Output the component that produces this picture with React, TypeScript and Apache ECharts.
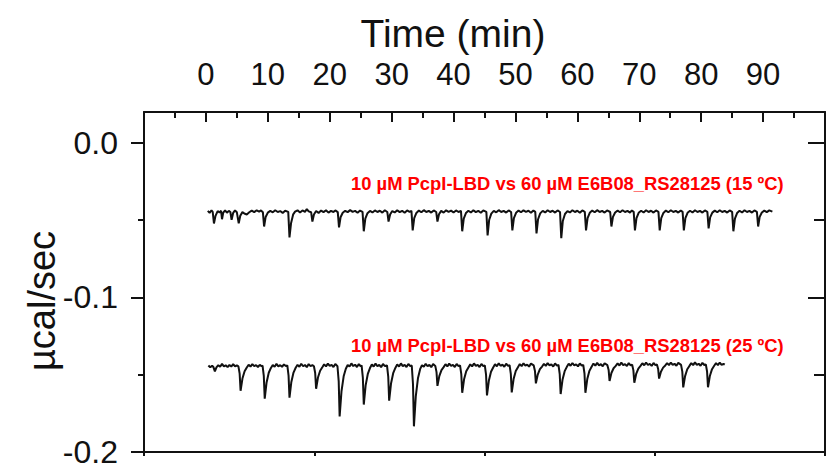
import React, { useEffect, useRef } from 'react';
import * as echarts from 'echarts';

// Time (min), heat rate (µcal/sec) — 15 ºC run
const upperTrace: [number, number][] = [
  [0.3,-0.0440],[0.6,-0.0452],[0.9,-0.0437],[1.1,-0.0447],[1.3,-0.0521],[1.55,-0.0472],[1.9,-0.0441],[2.2,-0.0450],[2.45,-0.0439],[2.6,-0.0494],[2.8,-0.0451],[3.1,-0.0436],[3.4,-0.0452],[3.7,-0.0440],[3.95,-0.0447],[4.15,-0.0497],[4.4,-0.0453],[4.7,-0.0437],[5.0,-0.0449],
  [5.3,-0.0521],[5.55,-0.0471],[5.9,-0.0448],[6.2,-0.0457],[6.6,-0.0463],[7.0,-0.0449],[7.4,-0.0438],[7.8,-0.0448],[8.2,-0.0436],[8.6,-0.0445],[8.9,-0.0437],[9.2,-0.0448],
  [9.4,-0.0541],[9.65,-0.0479],[10.0,-0.0451],[10.4,-0.0440],[10.8,-0.0449],[11.2,-0.0436],[11.6,-0.0447],[12.0,-0.0441],[12.4,-0.0453],[12.8,-0.0439],[13.3,-0.0446],
  [13.5,-0.0611],[13.75,-0.0520],[14.1,-0.0462],[14.4,-0.0445],[14.8,-0.0436],[15.2,-0.0450],[15.6,-0.0437],[16.0,-0.0446],[16.3,-0.0428],[16.6,-0.0443],[17.0,-0.0449],
  [17.2,-0.0509],[17.45,-0.0463],[17.8,-0.0441],[18.2,-0.0453],[18.6,-0.0438],[19.0,-0.0448],[19.4,-0.0436],[19.8,-0.0451],[20.2,-0.0440],[20.6,-0.0447],[20.9,-0.0437],[21.3,-0.0448],
  [21.5,-0.0547],[21.75,-0.0481],[22.1,-0.0452],[22.5,-0.0439],[22.9,-0.0448],[23.3,-0.0435],[23.7,-0.0446],[24.1,-0.0440],[24.5,-0.0452],[24.9,-0.0438],[25.3,-0.0446],
  [25.5,-0.0572],[25.75,-0.0490],[26.1,-0.0455],[26.5,-0.0440],[26.9,-0.0450],[27.3,-0.0437],[27.7,-0.0447],[28.1,-0.0439],[28.5,-0.0451],[28.9,-0.0436],[29.3,-0.0447],
  [29.5,-0.0509],[29.75,-0.0463],[30.1,-0.0441],[30.5,-0.0450],[30.9,-0.0436],[31.3,-0.0448],[31.7,-0.0439],[32.1,-0.0452],[32.5,-0.0437],[32.9,-0.0446],[33.2,-0.0440],
  [33.4,-0.0566],[33.65,-0.0487],[34.0,-0.0453],[34.4,-0.0438],[34.8,-0.0449],[35.2,-0.0435],[35.6,-0.0447],[36.0,-0.0440],[36.4,-0.0451],[36.8,-0.0437],[37.2,-0.0447],
  [37.4,-0.0509],[37.65,-0.0462],[38.0,-0.0440],[38.4,-0.0451],[38.8,-0.0436],[39.2,-0.0446],[39.6,-0.0438],[40.0,-0.0450],[40.4,-0.0437],[40.8,-0.0447],[41.2,-0.0440],
  [41.4,-0.0572],[41.65,-0.0490],[42.0,-0.0454],[42.4,-0.0439],[42.8,-0.0450],[43.2,-0.0436],[43.6,-0.0448],[44.0,-0.0439],[44.4,-0.0452],[44.8,-0.0437],[45.3,-0.0446],
  [45.5,-0.0598],[45.75,-0.0499],[46.1,-0.0458],[46.5,-0.0440],[46.9,-0.0449],[47.3,-0.0435],[47.7,-0.0447],[48.1,-0.0440],[48.5,-0.0451],[48.9,-0.0437],[49.3,-0.0447],
  [49.5,-0.0566],[49.75,-0.0487],[50.1,-0.0452],[50.5,-0.0438],[50.9,-0.0449],[51.3,-0.0436],[51.7,-0.0446],[52.1,-0.0439],[52.5,-0.0452],[52.9,-0.0437],[53.2,-0.0446],
  [53.4,-0.0585],[53.65,-0.0494],[54.0,-0.0456],[54.4,-0.0440],[54.8,-0.0450],[55.2,-0.0436],[55.6,-0.0447],[56.0,-0.0439],[56.4,-0.0451],[56.8,-0.0437],[57.2,-0.0447],
  [57.4,-0.0617],[57.65,-0.0505],[58.0,-0.0460],[58.4,-0.0441],[58.8,-0.0450],[59.2,-0.0436],[59.6,-0.0447],[60.0,-0.0439],[60.4,-0.0452],[60.8,-0.0437],[61.2,-0.0446],
  [61.4,-0.0566],[61.65,-0.0487],[62.0,-0.0452],[62.4,-0.0438],[62.8,-0.0449],[63.2,-0.0435],[63.6,-0.0447],[64.0,-0.0440],[64.4,-0.0451],[64.8,-0.0437],[65.3,-0.0447],
  [65.5,-0.0541],[65.75,-0.0479],[66.1,-0.0450],[66.5,-0.0438],[66.9,-0.0449],[67.3,-0.0436],[67.7,-0.0447],[68.1,-0.0440],[68.5,-0.0451],[68.8,-0.0437],[69.1,-0.0446],
  [69.3,-0.0566],[69.55,-0.0487],[69.9,-0.0452],[70.3,-0.0439],[70.7,-0.0450],[71.1,-0.0436],[71.5,-0.0447],[71.9,-0.0439],[72.3,-0.0451],[72.7,-0.0437],[73.1,-0.0446],
  [73.3,-0.0566],[73.55,-0.0487],[73.9,-0.0453],[74.3,-0.0438],[74.7,-0.0449],[75.1,-0.0436],[75.5,-0.0447],[75.9,-0.0440],[76.3,-0.0451],[76.7,-0.0437],[77.0,-0.0446],
  [77.2,-0.0566],[77.45,-0.0487],[77.8,-0.0452],[78.2,-0.0439],[78.6,-0.0450],[79.0,-0.0436],[79.4,-0.0447],[79.8,-0.0440],[80.2,-0.0451],[80.6,-0.0437],[81.0,-0.0446],
  [81.2,-0.0553],[81.45,-0.0482],[81.8,-0.0451],[82.2,-0.0438],[82.6,-0.0449],[83.0,-0.0436],[83.4,-0.0447],[83.8,-0.0440],[84.2,-0.0451],[84.6,-0.0437],[85.0,-0.0446],
  [85.2,-0.0572],[85.45,-0.0490],[85.8,-0.0454],[86.2,-0.0439],[86.6,-0.0450],[87.0,-0.0436],[87.4,-0.0447],[87.8,-0.0440],[88.2,-0.0451],[88.6,-0.0437],[89.0,-0.0446],
  [89.2,-0.0541],[89.45,-0.0479],[89.8,-0.0450],[90.2,-0.0438],[90.6,-0.0448],[91.0,-0.0437],[91.5,-0.0445],
];

// Time (min), heat rate (µcal/sec) — 25 ºC run
const lowerTrace: [number, number][] = [
  [0.4,-0.1440],[0.7,-0.1452],[1.0,-0.1443],[1.2,-0.1449],[1.45,-0.1478],[1.7,-0.1452],[2.0,-0.1438],[2.3,-0.1448],[2.6,-0.1430],[2.9,-0.1446],[3.2,-0.1439],[3.5,-0.1451],[3.8,-0.1437],[4.1,-0.1447],[4.4,-0.1432],[4.7,-0.1445],[5.0,-0.1440],[5.25,-0.1446],
  [5.45,-0.1493],[5.6,-0.1604],[5.9,-0.1525],[6.25,-0.1477],[6.6,-0.1453],[6.9,-0.1436],[7.2,-0.1447],[7.5,-0.1431],[7.8,-0.1444],[8.1,-0.1438],[8.4,-0.1450],[8.7,-0.1436],[9.0,-0.1445],[9.15,-0.1441],
  [9.35,-0.1508],[9.5,-0.1655],[9.8,-0.1550],[10.15,-0.1487],[10.5,-0.1456],[10.8,-0.1437],[11.1,-0.1448],[11.4,-0.1430],[11.7,-0.1446],[12.0,-0.1438],[12.3,-0.1449],[12.6,-0.1433],[12.9,-0.1444],[13.15,-0.1439],
  [13.35,-0.1506],[13.5,-0.1649],[13.8,-0.1547],[14.15,-0.1486],[14.5,-0.1455],[14.8,-0.1436],[15.1,-0.1448],[15.4,-0.1429],[15.7,-0.1445],[16.0,-0.1437],[16.3,-0.1451],[16.6,-0.1431],[16.9,-0.1444],[17.2,-0.1438],[17.45,-0.1445],
  [17.65,-0.1489],[17.8,-0.1591],[18.1,-0.1518],[18.45,-0.1474],[18.8,-0.1452],[19.1,-0.1433],[19.4,-0.1446],[19.7,-0.1428],[20.0,-0.1443],[20.3,-0.1436],[20.6,-0.1450],[20.9,-0.1430],[21.25,-0.1445],
  [21.45,-0.1543],[21.6,-0.1770],[21.9,-0.1608],[22.25,-0.1510],[22.6,-0.1461],[22.9,-0.1437],[23.2,-0.1447],[23.5,-0.1427],[23.8,-0.1444],[24.1,-0.1435],[24.4,-0.1450],[24.7,-0.1431],[25.0,-0.1445],[25.15,-0.1440],
  [25.35,-0.1519],[25.5,-0.1693],[25.8,-0.1569],[26.15,-0.1495],[26.5,-0.1457],[26.8,-0.1434],[27.1,-0.1447],[27.4,-0.1428],[27.7,-0.1445],[28.0,-0.1436],[28.3,-0.1451],[28.6,-0.1430],[28.9,-0.1444],[29.25,-0.1440],
  [29.45,-0.1512],[29.6,-0.1668],[29.9,-0.1557],[30.25,-0.1490],[30.6,-0.1456],[30.9,-0.1433],[31.2,-0.1447],[31.5,-0.1427],[31.8,-0.1444],[32.1,-0.1436],[32.4,-0.1450],[32.7,-0.1430],[33.0,-0.1445],[33.25,-0.1440],
  [33.45,-0.1562],[33.6,-0.1834],[33.9,-0.1640],[34.25,-0.1523],[34.6,-0.1464],[34.9,-0.1438],[35.2,-0.1449],[35.5,-0.1429],[35.8,-0.1445],[36.1,-0.1436],[36.4,-0.1451],[36.7,-0.1431],[37.05,-0.1443],
  [37.25,-0.1483],[37.4,-0.1572],[37.7,-0.1509],[38.05,-0.1470],[38.4,-0.1451],[38.7,-0.1432],[39.0,-0.1446],[39.3,-0.1428],[39.6,-0.1443],[39.9,-0.1436],[40.2,-0.1450],[40.5,-0.1430],[40.8,-0.1444],[41.05,-0.1439],
  [41.25,-0.1496],[41.4,-0.1617],[41.7,-0.1530],[42.05,-0.1478],[42.4,-0.1453],[42.7,-0.1433],[43.0,-0.1446],[43.3,-0.1427],[43.6,-0.1443],[43.9,-0.1436],[44.2,-0.1450],[44.5,-0.1430],[44.8,-0.1444],[45.05,-0.1439],
  [45.25,-0.1500],[45.4,-0.1634],[45.7,-0.1539],[46.05,-0.1481],[46.4,-0.1453],[46.7,-0.1432],[47.0,-0.1445],[47.3,-0.1426],[47.6,-0.1442],[47.9,-0.1435],[48.2,-0.1449],[48.5,-0.1429],[48.8,-0.1443],[49.05,-0.1438],
  [49.25,-0.1494],[49.4,-0.1614],[49.7,-0.1528],[50.05,-0.1476],[50.4,-0.1451],[50.7,-0.1431],[51.0,-0.1444],[51.3,-0.1426],[51.6,-0.1441],[51.9,-0.1434],[52.2,-0.1448],[52.5,-0.1428],[52.95,-0.1440],
  [53.15,-0.1476],[53.3,-0.1556],[53.6,-0.1499],[53.95,-0.1464],[54.3,-0.1447],[54.6,-0.1430],[54.9,-0.1443],[55.2,-0.1425],[55.5,-0.1440],[55.8,-0.1433],[56.1,-0.1447],[56.4,-0.1427],[56.7,-0.1441],[56.95,-0.1437],
  [57.15,-0.1496],[57.3,-0.1625],[57.6,-0.1533],[57.95,-0.1477],[58.3,-0.1449],[58.6,-0.1429],[58.9,-0.1442],[59.2,-0.1424],[59.5,-0.1440],[59.8,-0.1433],[60.1,-0.1446],[60.4,-0.1427],[60.7,-0.1441],[60.95,-0.1436],
  [61.15,-0.1492],[61.3,-0.1617],[61.6,-0.1528],[61.95,-0.1475],[62.3,-0.1448],[62.6,-0.1428],[62.9,-0.1441],[63.2,-0.1423],[63.5,-0.1439],[63.8,-0.1432],[64.1,-0.1445],[64.4,-0.1426],[64.85,-0.1438],
  [65.05,-0.1469],[65.2,-0.1540],[65.5,-0.1489],[65.85,-0.1458],[66.2,-0.1443],[66.5,-0.1427],[66.8,-0.1440],[67.1,-0.1422],[67.4,-0.1438],[67.7,-0.1431],[68.0,-0.1444],[68.3,-0.1425],[68.6,-0.1439],[68.85,-0.1435],
  [69.05,-0.1472],[69.2,-0.1552],[69.5,-0.1495],[69.85,-0.1460],[70.2,-0.1443],[70.5,-0.1426],[70.8,-0.1439],[71.1,-0.1421],[71.4,-0.1437],[71.7,-0.1430],[72.0,-0.1443],[72.3,-0.1424],[72.6,-0.1438],[72.85,-0.1434],
  [73.05,-0.1463],[73.2,-0.1525],[73.5,-0.1481],[73.85,-0.1454],[74.2,-0.1440],[74.5,-0.1425],[74.8,-0.1438],[75.1,-0.1421],[75.4,-0.1436],[75.7,-0.1429],[76.0,-0.1442],[76.3,-0.1423],[76.75,-0.1436],
  [76.95,-0.1480],[77.1,-0.1582],[77.4,-0.1509],[77.75,-0.1465],[78.1,-0.1443],[78.4,-0.1425],[78.7,-0.1438],[79.0,-0.1420],[79.3,-0.1436],[79.6,-0.1429],[79.9,-0.1442],[80.2,-0.1423],[80.5,-0.1437],[80.75,-0.1433],
  [80.95,-0.1479],[81.1,-0.1581],[81.4,-0.1508],[81.75,-0.1464],[82.1,-0.1442],[82.4,-0.1425],[82.7,-0.1438],[83.0,-0.1421],[83.3,-0.1436],[83.6,-0.1430],[83.8,-0.1435],
];

const yMajorTicks = [-0.2, -0.1, 0];
const yMinorTicks = [-0.15, -0.05];
const traceLabels = [
  '10 µM PcpI-LBD vs 60 µM E6B08_RS28125 (15 ºC)',
  '10 µM PcpI-LBD vs 60 µM E6B08_RS28125 (25 ºC)',
];
const xTitle = 'Time (min)';
const yTitle = 'µcal/sec';

export default function App() {
  const ref = useRef<HTMLDivElement>(null);
  useEffect(() => {
    const chart = echarts.init(ref.current as HTMLDivElement, null, { renderer: 'svg' });
    const font = "'Liberation Sans', Arial, sans-serif";
    const ink = '#111111';
    const line = { color: ink, width: 2 };
    chart.setOption({
      animation: false,
      backgroundColor: '#ffffff',
      grid: { left: 144, top: 112, right: -9, bottom: 11, containLabel: false },
      xAxis: [
        {
          type: 'value', position: 'top', min: -10, max: 100, interval: 10,
          axisLine: { show: true, onZero: false, lineStyle: line },
          axisTick: { show: true, inside: true, length: 10, lineStyle: line },
          minorTick: { show: true, splitNumber: 2, length: 6, lineStyle: line },
          axisLabel: {
            show: true, margin: 22, fontSize: 31, color: ink, fontFamily: font,
            formatter: (v: number) => (v < 0 || v > 90 ? '' : String(v)),
          },
          splitLine: { show: false }, minorSplitLine: { show: false },
        },
        {
          type: 'value', position: 'bottom', min: -1, max: 3, interval: 1,
          axisLine: { show: true, onZero: false, lineStyle: line },
          axisTick: { show: true, inside: false, length: 4, lineStyle: line },
          axisLabel: { show: false },
          splitLine: { show: false },
        },
      ],
      yAxis: [
        {
          type: 'value', position: 'left', min: -0.2, max: 0.02,
          axisLine: { show: true, onZero: false, lineStyle: line },
          axisTick: { show: true, inside: false, length: 13, lineStyle: line, customValues: yMajorTicks },
          axisLabel: {
            show: true, margin: 26, fontSize: 32, color: ink, fontFamily: font,
            customValues: yMajorTicks,
            formatter: (v: number) => v.toFixed(1),
          },
          splitLine: { show: false },
        },
        {
          type: 'value', position: 'left', min: -0.2, max: 0.02,
          axisLine: { show: false, onZero: false },
          axisTick: { show: true, inside: false, length: 6, lineStyle: line, customValues: yMinorTicks },
          axisLabel: { show: false },
          splitLine: { show: false },
        },
        {
          type: 'value', position: 'right', min: -0.2, max: 0.02,
          axisLine: { show: true, onZero: false, lineStyle: line },
          axisTick: { show: true, inside: true, length: 17, lineStyle: line, customValues: yMajorTicks },
          axisLabel: { show: false },
          splitLine: { show: false },
        },
        {
          type: 'value', position: 'right', min: -0.2, max: 0.02,
          axisLine: { show: false, onZero: false },
          axisTick: { show: true, inside: true, length: 11, lineStyle: line, customValues: yMinorTicks },
          axisLabel: { show: false },
          splitLine: { show: false },
        },
      ],
      series: [
        {
          type: 'line', xAxisIndex: 0, yAxisIndex: 0, data: upperTrace,
          showSymbol: false, symbol: 'none', silent: true,
          lineStyle: { color: ink, width: 2 },
        },
        {
          type: 'line', xAxisIndex: 0, yAxisIndex: 0, data: lowerTrace,
          showSymbol: false, symbol: 'none', silent: true,
          lineStyle: { color: ink, width: 2 },
        },
      ],
      graphic: [
        {
          type: 'text', x: 453, y: 33,
          style: { text: xTitle, fontSize: 39, fontFamily: font, fill: ink, align: 'center', verticalAlign: 'middle' },
        },
        {
          type: 'text', x: 42, y: 301, rotation: Math.PI / 2,
          style: { text: yTitle, fontSize: 38, fontFamily: font, fill: ink, align: 'center', verticalAlign: 'middle' },
        },
        {
          type: 'text', x: 351, y: 183,
          style: { text: traceLabels[0], fontSize: 18.4, fontWeight: 'bold', fontFamily: font, fill: '#ff0000', align: 'left', verticalAlign: 'middle' },
        },
        {
          type: 'text', x: 351, y: 345,
          style: { text: traceLabels[1], fontSize: 18.4, fontWeight: 'bold', fontFamily: font, fill: '#ff0000', align: 'left', verticalAlign: 'middle' },
        },
      ],
    });
    return () => chart.dispose();
  }, []);
  return (
    <div
      ref={ref}
      style={{ position: 'fixed', left: 0, top: 0, width: 828, height: 468, background: '#ffffff' }}
    />
  );
}
